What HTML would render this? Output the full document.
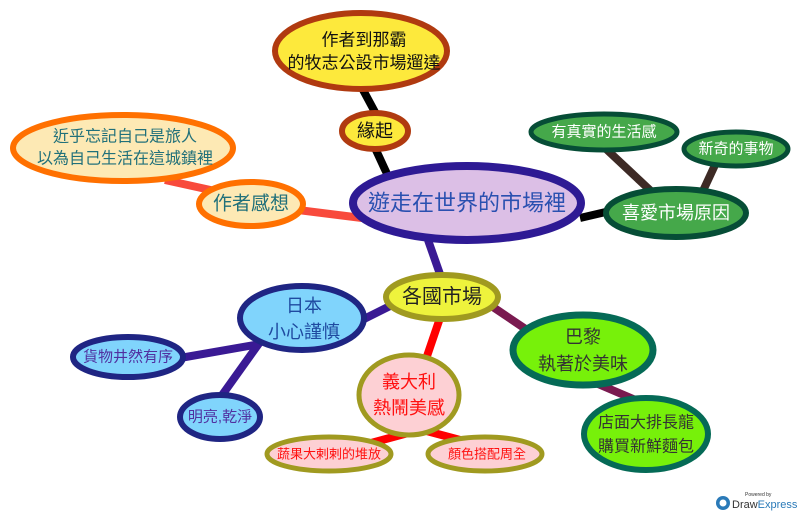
<!DOCTYPE html>
<html><head><meta charset="utf-8"><style>
html,body{margin:0;padding:0;background:#fff;}
svg{display:block;}
text{font-family:"Liberation Sans","Noto Sans CJK TC",sans-serif;text-anchor:middle;dominant-baseline:central;}
</style></head><body>
<svg width="800" height="514" viewBox="0 0 800 514" xmlns="http://www.w3.org/2000/svg">
<g stroke-linecap="butt" fill="none">
<line x1="362" y1="88" x2="376" y2="114" stroke="#000" stroke-width="8"/>
<line x1="375" y1="148" x2="388" y2="176" stroke="#000" stroke-width="8"/>
<line x1="580" y1="218" x2="610" y2="211" stroke="#000" stroke-width="8"/>
<line x1="605" y1="148" x2="652" y2="192" stroke="#3d2a25" stroke-width="8"/>
<line x1="715" y1="165" x2="702" y2="193" stroke="#3d2a25" stroke-width="8"/>
<line x1="165" y1="180" x2="215" y2="191" stroke="#f84a3c" stroke-width="8"/>
<line x1="298" y1="210" x2="362" y2="218" stroke="#f84a3c" stroke-width="8"/>
<line x1="428" y1="240" x2="441" y2="277" stroke="#3a1a94" stroke-width="8"/>
<line x1="392" y1="305" x2="356" y2="323" stroke="#3a1a94" stroke-width="8"/>
<line x1="180" y1="358" x2="260" y2="344" stroke="#3a1a94" stroke-width="8"/>
<line x1="220" y1="398" x2="260" y2="342" stroke="#3a1a94" stroke-width="8"/>
<line x1="440" y1="318" x2="425" y2="362" stroke="#ff0000" stroke-width="8"/>
<line x1="371" y1="443" x2="423" y2="429" stroke="#ff0000" stroke-width="8"/>
<line x1="419" y1="429" x2="464" y2="441" stroke="#ff0000" stroke-width="8"/>
<line x1="490" y1="305" x2="530" y2="332" stroke="#7a1a50" stroke-width="8"/>
<line x1="598" y1="384" x2="645" y2="404" stroke="#7a1a50" stroke-width="8"/>
</g>
<ellipse cx="361" cy="51" rx="86" ry="38" fill="#fde93c" stroke="#b03a10" stroke-width="6"/>
<text x="364" y="40" font-size="17" fill="#111">作者到那霸</text>
<text x="364" y="63" font-size="17" fill="#111">的牧志公設市場遛達</text>

<ellipse cx="375" cy="131" rx="33" ry="18" fill="#fde93c" stroke="#b03a10" stroke-width="6"/>
<text x="375" y="131" font-size="18" fill="#111">緣起</text>

<ellipse cx="123" cy="148" rx="110" ry="33" fill="#fde9b4" stroke="#ff7000" stroke-width="6"/>
<text x="125" y="137" font-size="16" fill="#20707a">近乎忘記自己是旅人</text>
<text x="125" y="159" font-size="16" fill="#20707a">以為自己生活在這城鎮裡</text>

<ellipse cx="251" cy="204" rx="52" ry="22" fill="#fde9b4" stroke="#ff7000" stroke-width="6"/>
<text x="251" y="204" font-size="19" fill="#20707a">作者感想</text>

<ellipse cx="467" cy="203" rx="114" ry="37" fill="#dcbfe6" stroke="#2e1a94" stroke-width="8"/>
<text x="467" y="203" font-size="22" fill="#2a50b0">遊走在世界的市場裡</text>

<ellipse cx="676" cy="213" rx="70" ry="24" fill="#45a84a" stroke="#064d36" stroke-width="6"/>
<text x="676" y="213" font-size="18" fill="#fff">喜愛市場原因</text>

<ellipse cx="604" cy="132" rx="73" ry="18" fill="#45a84a" stroke="#064d36" stroke-width="5"/>
<text x="604" y="132" font-size="15" fill="#fff">有真實的生活感</text>

<ellipse cx="736" cy="149" rx="52" ry="17" fill="#45a84a" stroke="#064d36" stroke-width="5"/>
<text x="736" y="149" font-size="15" fill="#fff">新奇的事物</text>

<ellipse cx="442" cy="297" rx="56" ry="22" fill="#eef33c" stroke="#a09a20" stroke-width="6"/>
<text x="442" y="297" font-size="20" fill="#222">各國市場</text>

<ellipse cx="302" cy="318" rx="62" ry="32" fill="#80d4fc" stroke="#1f2583" stroke-width="6"/>
<text x="304" y="306" font-size="18" fill="#1f4aa0">日本</text>
<text x="304" y="332" font-size="18" fill="#1f4aa0">小心謹慎</text>

<ellipse cx="128" cy="357" rx="55" ry="20" fill="#80d4fc" stroke="#1f2583" stroke-width="6"/>
<text x="128" y="357" font-size="15" fill="#5030a0">貨物井然有序</text>

<ellipse cx="220" cy="417" rx="40" ry="22" fill="#80d4fc" stroke="#1f2583" stroke-width="6"/>
<text x="220" y="417" font-size="15" fill="#5030a0">明亮,乾淨</text>

<ellipse cx="409" cy="395" rx="50" ry="40" fill="#fdd0d4" stroke="#a09a20" stroke-width="5"/>
<text x="409" y="382" font-size="18" fill="#ff1010">義大利</text>
<text x="409" y="408" font-size="18" fill="#ff1010">熱鬧美感</text>

<ellipse cx="329" cy="454" rx="62" ry="17" fill="#fdd0d4" stroke="#a09a20" stroke-width="5"/>
<text x="329" y="454" font-size="13" fill="#ff1010">蔬果大剌剌的堆放</text>

<ellipse cx="485" cy="454" rx="57" ry="17" fill="#fdd0d4" stroke="#a09a20" stroke-width="5"/>
<text x="487" y="454" font-size="13" fill="#ff1010">顏色搭配周全</text>

<ellipse cx="583" cy="350" rx="70" ry="35" fill="#77f10a" stroke="#056a56" stroke-width="7"/>
<text x="583" y="337" font-size="18" fill="#333">巴黎</text>
<text x="583" y="364" font-size="18" fill="#333">執著於美味</text>

<ellipse cx="646" cy="434" rx="62" ry="36" fill="#77f10a" stroke="#056a56" stroke-width="6"/>
<text x="646" y="423" font-size="16" fill="#333">店面大排長龍</text>
<text x="646" y="447" font-size="16" fill="#333">購買新鮮麵包</text>

<circle cx="723" cy="503" r="7" fill="#2a7ab8"/>
<circle cx="723" cy="503" r="3.5" fill="#fff"/>
<text x="745" y="495" font-size="5" fill="#333" style="text-anchor:start">Powered by</text>
<text x="732" y="505" font-size="11" fill="#333" style="text-anchor:start">Draw<tspan fill="#2a7ab8">Express</tspan></text>
</svg>
</body></html>
